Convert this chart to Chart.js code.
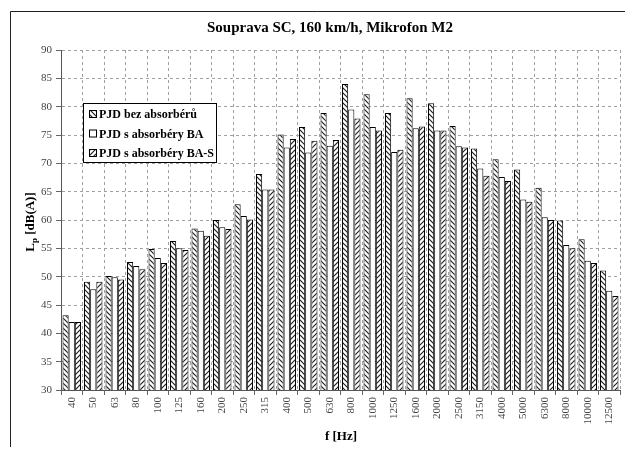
<!DOCTYPE html>
<html lang="cs">
<head>
    <meta charset="UTF-8">
    <title>Souprava SC, 160 km/h, Mikrofon M2</title>
    <script src="https://cdn.jsdelivr.net/npm/chart.js"></script>
    <style>
        body { margin: 0; background: #fff; }
        #wrap { position: relative; width: 625px; height: 452px; }
    </style>
</head>
<body>
<div id="wrap">
    <canvas id="chart" width="625" height="452"></canvas>
</div>
<script>
    // pasma 1/3 oktavy [Hz]
    const frekvence = ['40', '50', '63', '80', '100', '125', '160', '200', '250', '315', '400', '500', '630',
        '800', '1000', '1250', '1600', '2000', '2500', '3150', '4000', '5000', '6300', '8000', '10000', '12500'];

    const bezAbsorberu = [43.2, 49.1, 50.1, 52.6, 54.9, 56.3, 58.5, 60.0, 62.8, 68.1, 75.1, 76.4, 78.9,
        84.0, 82.2, 78.9, 81.5, 80.6, 76.6, 72.6, 70.7, 68.9, 65.7, 59.9, 56.6, 51.1];
    const absorberyBA = [42.0, 47.8, 49.9, 51.9, 53.3, 55.0, 58.1, 58.7, 60.7, 65.4, 72.8, 71.9, 73.1,
        79.5, 76.4, 72.0, 76.2, 75.8, 73.0, 69.1, 67.6, 63.6, 60.5, 55.6, 52.8, 47.5];
    const absorberyBAS = [42.0, 49.1, 49.5, 51.3, 52.4, 54.7, 57.2, 58.4, 60.1, 65.4, 74.3, 74.0, 74.1,
        77.9, 75.8, 72.4, 76.5, 75.8, 72.8, 67.8, 66.9, 63.2, 60.0, 55.0, 52.4, 46.6];

    const nazvy = ['PJD bez absorbérů', 'PJD s absorbéry BA', 'PJD s absorbéry BA-S'];

    const SERIF = '"Liberation Serif", "Times New Roman", serif';

    const ctx = document.getElementById('chart').getContext('2d');

    // srafovani pro sloupce
    function srafa(smer) {
        const n = 5;
        const c = document.createElement('canvas');
        c.width = n; c.height = n;
        const g = c.getContext('2d');
        g.fillStyle = '#fff';
        g.fillRect(0, 0, n, n);
        g.strokeStyle = '#222';
        g.lineWidth = 1.2;
        g.beginPath();
        if (smer === '\\') {
            g.moveTo(-1, -1); g.lineTo(n + 1, n + 1);
            g.moveTo(-1, n - 1); g.lineTo(1, n + 1);
            g.moveTo(n - 1, -1); g.lineTo(n + 1, 1);
        } else {
            g.moveTo(-1, n + 1); g.lineTo(n + 1, -1);
            g.moveTo(-1, 1); g.lineTo(1, -1);
            g.moveTo(n - 1, n + 1); g.lineTo(n + 1, n - 1);
        }
        g.stroke();
        return ctx.createPattern(c, 'repeat');
    }

    const vyplne = [srafa('\\'), '#fff', srafa('/')];

    const popisky = {
        id: 'popisky',
        afterDraw(chart) {
            const c = chart.ctx;
            c.save();
            // ramecek
            c.strokeStyle = '#222';
            c.lineWidth = 1;
            c.beginPath();
            c.moveTo(10.5, 447);
            c.lineTo(10.5, 11.5);
            c.lineTo(625, 11.5);
            c.stroke();

            c.fillStyle = '#000';
            c.textAlign = 'center';
            c.textBaseline = 'middle';
            c.font = 'bold 15px ' + SERIF;
            c.fillText('Souprava SC, 160 km/h, Mikrofon M2', 330, 28);

            c.font = 'bold 13px ' + SERIF;
            c.fillText('f [Hz]', 341, 437);

            // osa y: L s indexem p
            c.save();
            c.translate(31, 222);
            c.rotate(-Math.PI / 2);
            c.textAlign = 'left';
            const t1 = 'L', t2 = 'p', t3 = ' [dB(A)]';
            c.font = 'bold 13px ' + SERIF;
            const w1 = c.measureText(t1).width;
            const w3 = c.measureText(t3).width;
            c.font = 'bold 9px ' + SERIF;
            const w2 = c.measureText(t2).width;
            let x = -(w1 + w2 + w3) / 2;
            c.font = 'bold 13px ' + SERIF;
            c.fillText(t1, x, 0);
            c.font = 'bold 9px ' + SERIF;
            c.fillText(t2, x + w1, 4);
            c.font = 'bold 13px ' + SERIF;
            c.fillText(t3, x + w1 + w2, 0);
            c.restore();

            // legenda
            c.fillStyle = '#fff';
            c.fillRect(83, 103, 133, 59);
            c.strokeStyle = '#000';
            c.strokeRect(83.5, 103.5, 133, 59);
            c.font = 'bold 12px ' + SERIF;
            c.textAlign = 'left';
            nazvy.forEach((n, i) => {
                const y = 114 + i * 19.5;
                c.fillStyle = vyplne[i];
                c.fillRect(89, y - 4, 8, 8);
                c.strokeStyle = '#000';
                c.lineWidth = 1;
                c.strokeRect(89.5, y - 3.5, 7, 7);
                c.fillStyle = '#000';
                c.fillText(n, 99, y + 1);
            });
            c.restore();
        }
    };

    new Chart(ctx, {
        type: 'bar',
        data: {
            labels: frekvence,
            datasets: [bezAbsorberu, absorberyBA, absorberyBAS].map((d, i) => ({
                label: nazvy[i],
                data: d,
                backgroundColor: vyplne[i],
                borderColor: '#000',
                borderWidth: 1,
                borderSkipped: 'bottom',
                barPercentage: 1.0,
                categoryPercentage: 0.86
            }))
        },
        options: {
            responsive: false,
            animation: false,
            layout: { padding: { top: 50, right: 5, left: 0, bottom: 0 } },
            plugins: {
                legend: { display: false },
                tooltip: { enabled: false }
            },
            scales: {
                x: {
                    afterFit(scale) { scale.height = 62; },
                    grid: {
                        color: '#a0a0a0',
                        tickLength: 5,
                        tickColor: '#666'
                    },
                    border: { display: true, color: '#555', width: 1, dash: [3, 3] },
                    ticks: {
                        autoSkip: false,
                        maxRotation: 90,
                        minRotation: 90,
                        padding: 2,
                        color: '#444',
                        font: { family: SERIF, size: 11 }
                    }
                },
                y: {
                    min: 30,
                    max: 90,
                    afterFit(scale) { scale.width = 61; },
                    grid: {
                        color: '#a0a0a0',
                        tickLength: 5,
                        tickColor: '#666'
                    },
                    border: { display: true, color: '#555', width: 1, dash: [3, 3] },
                    ticks: {
                        stepSize: 5,
                        padding: 4,
                        color: '#444',
                        font: { family: SERIF, size: 11 }
                    }
                }
            }
        },
        plugins: [popisky]
    });
</script>
</body>
</html>
